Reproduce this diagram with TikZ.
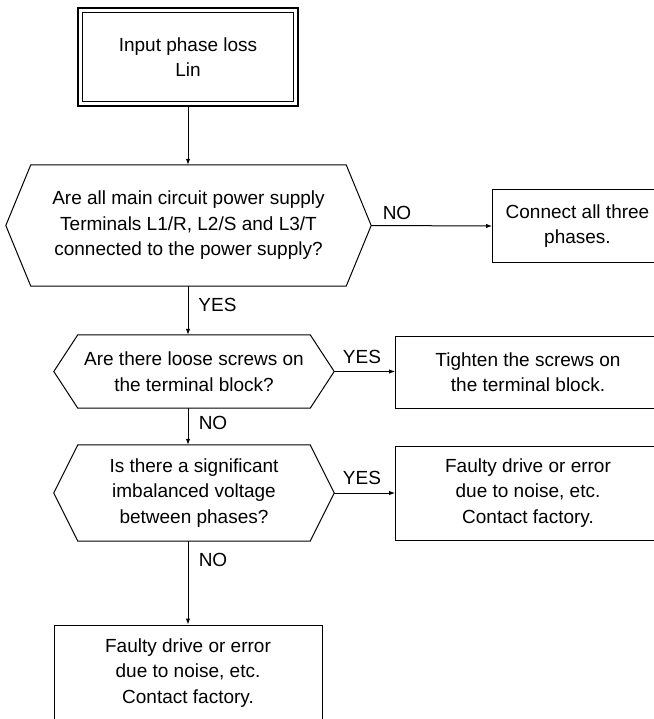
\documentclass[tikz,border=0pt]{standalone}
\usepackage{fontspec}
\setmainfont{Liberation Sans}
\usetikzlibrary{arrows.meta}
\begin{document}
\begin{tikzpicture}[x=1pt,y=-1pt,
  every node/.style={font=\fontsize{19}{25.5}\selectfont},
  box/.style={draw,line width=1pt,rectangle,align=center,inner sep=0pt},
  hexa/.style={rectangle,align=center,inner sep=0pt},
  lbl/.style={inner sep=0pt},
  arr/.style={line width=1pt,-{Latex[length=6pt,width=4.5pt]}},
  hexline/.style={line width=1pt}]
\useasboundingbox (0,0) rectangle (653,719);
\fill[white] (0,0) rectangle (653,719);

% start box
\node[box, minimum width=220pt, minimum height=98pt, line width=1.3pt] (s) at (188,57) {Input phase loss\\Lin};
\draw[line width=0.8pt] ([shift={(5.5pt,-5.5pt)}]s.north west) rectangle ([shift={(-5.5pt,5.5pt)}]s.south east);

% decision 1
\node[hexa, minimum width=315pt, minimum height=121pt] (d1) at (188.5,225.5) {Are all main circuit power supply\\Terminals L1/R, L2/S and L3/T\\connected to the power supply?};
\coordinate (d1l) at ([xshift=-25pt]d1.west);
\coordinate (d1r) at ([xshift=25pt]d1.east);
\draw[hexline] (d1.north west) -- (d1.north east) -- (d1r) -- (d1.south east) -- (d1.south west) -- (d1l) -- cycle;

\node[box, minimum width=170pt, minimum height=72pt, anchor=west] (b1) at (492,226) {Connect all three\\phases.};
\node[lbl] (no1) at (397,213) {NO};

% decision 2
\node[hexa, minimum width=232pt, minimum height=73pt] (d2) at (194,371.5) {Are there loose screws on\\the terminal block?};
\coordinate (d2l) at ([xshift=-24pt]d2.west);
\coordinate (d2r) at ([xshift=24pt]d2.east);
\draw[hexline] (d2.north west) -- (d2.north east) -- (d2r) -- (d2.south east) -- (d2.south west) -- (d2l) -- cycle;

\node[box, minimum width=265pt, minimum height=72pt, anchor=west] (b2) at (395,372) {Tighten the screws on\\the terminal block.};
\node[lbl] (yes1) at (217.5,305) {YES};
\node[lbl] (yes2) at (362,357) {YES};

% decision 3
\node[hexa, minimum width=232pt, minimum height=96pt] (d3) at (194,493) {Is there a significant\\imbalanced voltage\\between phases?};
\coordinate (d3l) at ([xshift=-24pt]d3.west);
\coordinate (d3r) at ([xshift=24pt]d3.east);
\draw[hexline] (d3.north west) -- (d3.north east) -- (d3r) -- (d3.south east) -- (d3.south west) -- (d3l) -- cycle;

\node[box, minimum width=265pt, minimum height=94pt, anchor=west] (b3) at (395,493) {Faulty drive or error\\due to noise, etc.\\Contact factory.};
\node[lbl] (no2) at (213,423) {NO};
\node[lbl] (yes3) at (362,478) {YES};

% final box
\node[box, minimum width=268pt, minimum height=96pt] (b4) at (188,673) {Faulty drive or error\\due to noise, etc.\\Contact factory.};
\node[lbl] (no3) at (213,560) {NO};

% connectors
\draw[arr] (s.south) -- (s.south |- d1.north);
\draw[arr] (d1r) -- (b1.west);
\draw[arr] (s.south |- d1.south) -- (s.south |- d2.north);
\draw[arr] (d2r) -- (b2.west |- d2r);
\draw[arr] (s.south |- d2.south) -- (s.south |- d3.north);
\draw[arr] (d3r) -- (b3.west |- d3r);
\draw[arr] (s.south |- d3.south) -- (s.south |- b4.north);
\end{tikzpicture}
\end{document}
